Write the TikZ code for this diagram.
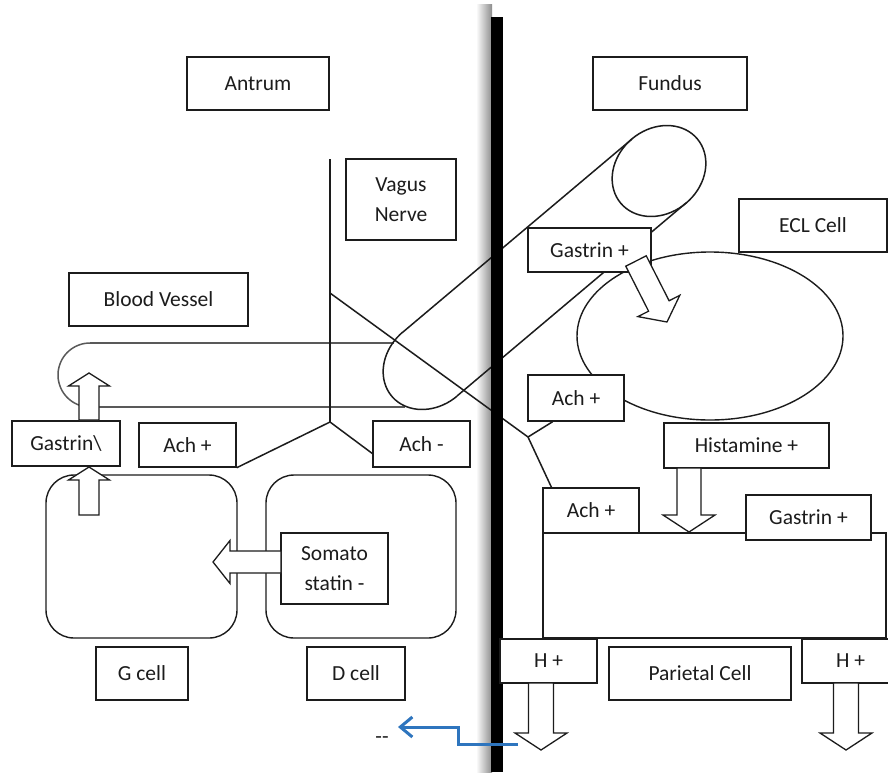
\documentclass[tikz,border=0pt]{standalone}
\usepackage{fontspec}
\setmainfont{Carlito}
\usetikzlibrary{calc,arrows.meta,shapes.geometric}
\definecolor{arrowblue}{RGB}{46,117,190}
\definecolor{ink}{RGB}{28,28,28}
% block arrow: #1 tail, #2 tip, #3 half shaft, #4 half head, #5 head length, #6 prefix
\newcommand{\blockarr}[6]{%
  \coordinate (#6base) at ($(#2)!#5!(#1)$);
  \draw[blockarrow] ($(#1)!#3!-90:(#2)$) -- ($(#6base)!#3!-90:(#2)$) -- ($(#6base)!#4!-90:(#2)$)
     -- (#2) -- ($(#6base)!#4!90:(#2)$) -- ($(#6base)!#3!90:(#2)$) -- ($(#1)!#3!90:(#2)$) -- cycle;
}
\begin{document}
\begin{tikzpicture}[x=1pt,y=-1pt,
  box/.style={draw=ink, fill=white, line width=1.4pt, inner sep=0pt, text=ink,
    font=\fontsize{21.5}{30}\selectfont, align=center},
  ln/.style={draw=ink, line width=1.5pt},
  vessel/.style={draw=black!65, line width=1.5pt},
  blockarrow/.style={draw=ink, fill=white, line width=1.3pt, line join=miter},
  cellbody/.style={draw=ink, line width=1.4pt, rounded corners=28pt, inner sep=0pt},
]
\useasboundingbox (0,0) rectangle (888,772);
\fill[white] (0,0) rectangle (888,772);
\clip (0,0) rectangle (888,772);

% shadow of the divider
\shade[left color=white, right color=black!45] (476,4) rectangle (492,772);

% blood vessel
\coordinate (vtr) at (394,343);
\coordinate (vbr) at (405,407);
\coordinate (vtl) at (90,343);
\coordinate (vbl) at (90,407);
\draw[vessel] (vtr) -- (vtl);
\draw[vessel] (vbr) -- (vbl);
\draw[vessel] plot[domain=0:180, samples=40] ({90-32*sin(\x)},{375+32*cos(\x)});

% tube (can) from fundus to vessel
\draw[ln] plot[domain=0:360, samples=73] ({659 + 50*cos(\x)*0.766 + 42*sin(\x)*0.643}, {171 - 50*cos(\x)*0.643 + 42*sin(\x)*0.766});
\draw[ln] plot[domain=90:270, samples=40] ({430 + 50*cos(\x)*0.766 + 42*sin(\x)*0.643}, {364 - 50*cos(\x)*0.643 + 42*sin(\x)*0.766});
\coordinate (t1u) at (632,139);
\coordinate (t1l) at (686,203);
\coordinate (t2u) at (403,332);
\coordinate (t2l) at (457,396);
\draw[ln] (t1u) -- (t2u);
\draw[ln] (t1l) -- (t2l);

% cell bodies
\node[draw=ink, line width=1.4pt, ellipse, minimum width=266pt, minimum height=168pt, inner sep=0pt] (eclbody) at (710,336) {};
\node[draw=ink, line width=1.4pt, minimum width=343pt, minimum height=105pt, inner sep=0pt] (pbody) at (714.5,585.5) {};
\node[cellbody, minimum width=191pt, minimum height=163pt] (gbody) at (141.5,556.5) {};
\node[cellbody, minimum width=190pt, minimum height=163pt] (dbody) at (361,556.5) {};

% vagus nerve
\coordinate (vtop) at (330,159);
\coordinate (vj) at (330,422);
\coordinate (vd) at (330,293);
\coordinate (rj) at (528,437);
\draw[ln] (vtop) -- (vj);
\draw[ln] (vd) -- (rj);

% divider
\fill[black] (491,17) rectangle (503,772);

% labels
\node[box, minimum width=142pt, minimum height=53pt] (antrum) at (258,83.5) {Antrum};
\node[box, minimum width=154pt, minimum height=53pt] (fundus) at (670,83.5) {Fundus};
\node[box, minimum width=110pt, minimum height=81pt] (vagus) at (401,199.5) {Vagus\\Nerve};
\node[box, minimum width=179pt, minimum height=53pt] (bv) at (158.5,299.5) {Blood Vessel};
\node[box, minimum width=108pt, minimum height=45pt] (gastl) at (66,443.5) {Gastrin\textbackslash};
\node[box, minimum width=97pt, minimum height=44pt] (achl) at (187.5,445) {Ach +};
\node[box, minimum width=97pt, minimum height=46pt] (achm) at (421.5,444) {Ach -};
\node[box, minimum width=107pt, minimum height=71pt] (soma) at (334.5,568.5) {Somato\\statin -};
\node[box, minimum width=92pt, minimum height=53pt] (gcell) at (142,673.5) {G cell};
\node[box, minimum width=98pt, minimum height=53pt] (dcell) at (356,673.5) {D cell};
\node[box, minimum width=123pt, minimum height=44pt] (gastu) at (589.5,250) {Gastrin +};
\node[box, minimum width=96pt, minimum height=46pt] (achu) at (576,398) {Ach +};
\node[box, minimum width=148pt, minimum height=53pt] (ecl) at (813,225.5) {ECL Cell};
\node[box, minimum width=165pt, minimum height=45pt] (hist) at (746.5,445.5) {Histamine +};
\node[box, minimum width=96pt, minimum height=45pt] (achp) at (591,510.5) {Ach +};
\node[box, minimum width=125pt, minimum height=45pt] (gastp) at (808.5,517.5) {Gastrin +};
\node[box, minimum width=97pt, minimum height=44pt] (hl) at (548.5,661) {H +};
\node[box, minimum width=182pt, minimum height=53pt] (parietal) at (700,673.5) {Parietal Cell};
\node[box, minimum width=97pt, minimum height=44pt] (hr) at (850.5,661) {H +};

% nerve branches to labels
\draw[ln] (vj) -- (achl.south east);
\draw[ln] (vj) -- ($(achm.south west)!0.3!(achm.north west)$);
\draw[ln] (rj) -- ($(achu.south west)!0.26!(achu.south east)$);
\draw[ln] (rj) -- ($(achp.north west)!0.094!(achp.north east)$);

% block arrows
\coordinate (a1t) at (636,261); \coordinate (a1p) at (667,322);
\blockarr{a1t}{a1p}{11.5pt}{23.5pt}{18pt}{a1}
\coordinate (a2t) at (89,420); \coordinate (a2p) at (89,373);
\blockarr{a2t}{a2p}{10pt}{20.5pt}{13pt}{a2}
\coordinate (a3t) at (89,515); \coordinate (a3p) at (89,467);
\blockarr{a3t}{a3p}{10pt}{20.5pt}{13pt}{a3}
\coordinate (a4t) at (281,562); \coordinate (a4p) at (213,562);
\blockarr{a4t}{a4p}{11pt}{21.5pt}{17pt}{a4}
\coordinate (a5t) at (689,468); \coordinate (a5p) at (689,532);
\blockarr{a5t}{a5p}{12pt}{26pt}{17pt}{a5}
\coordinate (a6t) at (541,683); \coordinate (a6p) at (541,750);
\blockarr{a6t}{a6p}{12.5pt}{26pt}{17pt}{a6}
\coordinate (a7t) at (846,683); \coordinate (a7p) at (846,750);
\blockarr{a7t}{a7p}{12.5pt}{26pt}{17pt}{a7}

% blue arrow
\coordinate (bs) at (518,744);
\coordinate (bk1) at (458,744);
\coordinate (bk2) at (458,727);
\coordinate (bt) at (398,727);
\draw[line width=3pt, arrowblue, -{Straight Barb[length=12pt,width=20pt]}] (bs) -- (bk1) -- (bk2) -- (bt);
\node[text=ink, font=\fontsize{21.5}{30}\selectfont, inner sep=0pt] (dashes) at (382,740) {{-}{-}};
\end{tikzpicture}
\end{document}
